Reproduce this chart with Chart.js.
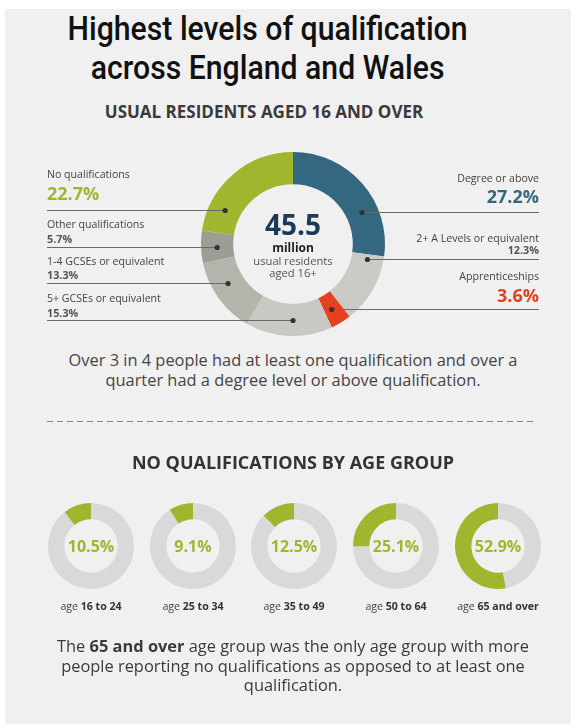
<!DOCTYPE html>
<html><head><meta charset="utf-8">
<script src="https://cdn.jsdelivr.net/npm/chart.js@4.4.1/dist/chart.umd.min.js"></script>
<style>
html,body{margin:0;padding:0;background:#fff;width:571px;height:724px;overflow:hidden;position:relative;font-family:"Open Sans",sans-serif;}
#bg{position:absolute;left:5px;top:9px;width:566px;height:715px;background:#f0f0f0;}
.t{position:absolute;white-space:nowrap;text-align:center;width:600px;}
canvas{position:absolute;}
#title{font-family:Roboto,"Open Sans",sans-serif;font-weight:500;font-size:33px;line-height:39px;color:#111;left:0;top:9px;width:auto;transform-origin:0 0;}
#sub{font-weight:bold;font-size:17px;line-height:17px;color:#3a3a3a;left:-36px;top:103px;}
#summary{font-size:16.4px;line-height:19.7px;color:#454545;left:-7px;top:350px;}
#sub2{font-weight:bold;font-size:18px;line-height:18px;color:#333;left:-7px;top:453px;}
#bottom{font-size:16.4px;line-height:19.7px;color:#3a3a3a;left:-7px;top:636px;}
.age{position:absolute;white-space:nowrap;text-align:center;width:120px;font-size:10.6px;line-height:11px;color:#444;top:601px;}
.age b{color:#333;}
svg{position:absolute;left:0;top:0;}
.tl{display:block;}
</style></head>
<body>
<div id="bg"></div>
<div class="t" id="title"><span class="tl" id="tl1">Highest levels of qualification</span><span class="tl" id="tl2">across England and Wales</span></div>
<div class="t" id="sub">USUAL RESIDENTS AGED 16 AND OVER</div>
<canvas id="main" width="571" height="200" style="left:0;top:140px;width:571px;height:200px"></canvas>
<div class="t" id="summary">Over 3 in 4 people had at least one qualification and over a<br>quarter had a degree level or above qualification.</div>
<svg width="571" height="724"><line x1="47" y1="421.5" x2="536" y2="421.5" stroke="#8a8a8a" stroke-width="1" stroke-dasharray="6,4"/></svg>
<div class="t" id="sub2">NO QUALIFICATIONS BY AGE GROUP</div>
<div id="small"></div>
<div class="t" id="bottom">The <b>65 and over</b> age group was the only age group with more<br>people reporting no qualifications as opposed to at least one<br>qualification.</div>
<script>
// ---------- DATA ----------
const categories = ['Degree or above','2+ A Levels or equivalent','Apprenticeships','5+ GCSEs or equivalent','1-4 GCSEs or equivalent','Other qualifications','No qualifications'];
const shares = [27.2, 12.3, 3.6, 15.3, 13.3, 5.7, 22.7];
const totalResidents = '45.5';
const ageGroups = ['16 to 24','25 to 34','35 to 49','50 to 64','65 and over'];
const noQualShares = [10.5, 9.1, 12.5, 25.1, 52.9];

// ---------- STYLE / LAYOUT ----------
const segColors = ['#346880','#cacbc5','#e5401f','#c8c9c3','#b3b4ab','#9c9e95','#a1b52e'];
const mainTop = 140;
const labelLayout = [
  {side:'right', nameY:182.3, valY:203.3, lineY:212.3, big:true,  color:'#346880'},
  {side:'right', nameY:241.7, valY:254.0, lineY:258.7, big:false},
  {side:'right', nameY:280.0, valY:301.7, lineY:309.3, big:true,  color:'#e5401f'},
  {side:'left',  nameY:302.3, valY:316.7, lineY:320.0, big:false},
  {side:'left',  nameY:265.0, valY:279.3, lineY:283.3, big:false},
  {side:'left',  nameY:228.3, valY:242.7, lineY:246.7, big:false},
  {side:'left',  nameY:178.3, valY:200.0, lineY:210.0, big:true,  color:'#a1b52e'}
];
const leftX = 47, rightX = 539;
const smallCenters = [91, 193, 294, 396, 498];
const smallCy = 546;

// title: condensed look
(function(){
  const t = document.getElementById('title');
  const w1 = document.getElementById('tl1').getBoundingClientRect().width;
  const s = 400 / w1;
  t.style.width = (600) + 'px';
  t.style.left = (268 - 300 * s) + 'px';
  t.style.transform = 'scaleX(' + s + ')';
})();

const fmt = v => v.toFixed(1) + '%';

const mainLabels = {
  id:'mainLabels',
  afterDraw(chart){
    const ctx = chart.ctx;
    const meta = chart.getDatasetMeta(0);
    ctx.save();
    meta.data.forEach((arc, i) => {
      const L = labelLayout[i];
      const p = arc.getProps(['x','y','innerRadius','outerRadius','startAngle','endAngle'], true);
      const mr = (p.innerRadius + p.outerRadius) / 2;
      const ly = L.lineY - mainTop;
      const dy = ly - p.y;
      const dx = Math.sqrt(Math.max(mr*mr - dy*dy, 0));
      const norm = a => { while (a < p.startAngle) a += 2*Math.PI; while (a > p.startAngle + 2*Math.PI) a -= 2*Math.PI; return a; };
      let cands = [p.x + dx, p.x - dx].filter(x => { const a = norm(Math.atan2(dy, x - p.x)); return a >= p.startAngle && a <= p.endAngle; });
      if (!cands.length) cands = [p.x + (L.side==='left' ? -dx : dx)];
      cands.sort((a,b) => L.side==='left' ? b-a : a-b);
      const dotX = cands[0];
      ctx.strokeStyle = '#6a6a6a'; ctx.lineWidth = 1;
      ctx.beginPath();
      const yy = Math.round(ly) + 0.5;
      if (L.side==='left') { ctx.moveTo(leftX, yy); ctx.lineTo(dotX, yy); }
      else { ctx.moveTo(dotX, yy); ctx.lineTo(rightX, yy); }
      ctx.stroke();
      ctx.fillStyle = '#333';
      ctx.beginPath(); ctx.arc(dotX, yy, 2.6, 0, 2*Math.PI); ctx.fill();
      const tx = L.side==='left' ? leftX : rightX;
      ctx.textAlign = L.side==='left' ? 'left' : 'right';
      ctx.textBaseline = 'alphabetic';
      ctx.fillStyle = '#444';
      ctx.font = '10.6px "Open Sans"';
      ctx.fillText(categories[i], tx, L.nameY - mainTop);
      if (L.big) { ctx.font = 'bold 18px "Open Sans"'; ctx.fillStyle = L.color; }
      else { ctx.font = 'bold 10.8px "Open Sans"'; ctx.fillStyle = '#555'; }
      ctx.fillText(fmt(shares[i]), tx, L.valY - mainTop);
    });
    // centre text
    const c = meta.data[0];
    ctx.textAlign = 'center';
    ctx.fillStyle = '#1b3a57';
    ctx.font = 'bold 28px "Open Sans"';
    ctx.fillText(totalResidents, c.x, c.y - 9);
    ctx.fillStyle = '#1e1e1e';
    ctx.font = 'bold 12px "Open Sans"';
    ctx.fillText('million', c.x, c.y + 8.3);
    ctx.fillStyle = '#555';
    ctx.font = '11.2px "Open Sans"';
    ctx.fillText('usual residents', c.x, c.y + 21);
    ctx.fillText('aged 16+', c.x, c.y + 33);
    ctx.restore();
  }
};

new Chart(document.getElementById('main'), {
  type:'doughnut',
  data:{labels:categories, datasets:[{data:shares, backgroundColor:segColors, borderWidth:0, hoverOffset:0}]},
  options:{responsive:false, animation:false, cutout:'65%',
    layout:{padding:{left:201, right:186, top:12, bottom:4}},
    plugins:{legend:{display:false}, tooltip:{enabled:false}}},
  plugins:[mainLabels]
});

const smallText = {
  id:'smallText',
  afterDraw(chart, args, opts){
    const ctx = chart.ctx, a = chart.getDatasetMeta(0).data[0];
    ctx.save();
    ctx.font = 'bold 16px "Open Sans"';
    ctx.fillStyle = '#a1b52e';
    ctx.textAlign = 'center';
    ctx.textBaseline = 'alphabetic';
    ctx.fillText(opts.label || '', a.x, a.y + 6.3);
    ctx.restore();
  }
};

const host = document.getElementById('small');
noQualShares.forEach((v, i) => {
  const cv = document.createElement('canvas');
  cv.width = 100; cv.height = 100;
  cv.style.left = (smallCenters[i] - 50) + 'px';
  cv.style.top = (smallCy - 50) + 'px';
  cv.style.width = '100px'; cv.style.height = '100px';
  host.appendChild(cv);
  new Chart(cv, {
    type:'doughnut',
    data:{labels:['At least one qualification','No qualifications'], datasets:[{data:[100 - v, v], backgroundColor:['#d9d9d9','#a1b52e'], borderWidth:0, hoverOffset:0}]},
    options:{responsive:false, animation:false, cutout:'62%',
      layout:{padding:7},
      plugins:{legend:{display:false}, tooltip:{enabled:false}, smallText:{label:fmt(v)}}},
    plugins:[smallText]
  });
  const lab = document.createElement('div');
  lab.className = 'age';
  lab.style.left = (smallCenters[i] - 60) + 'px';
  lab.innerHTML = 'age <b>' + ageGroups[i] + '</b>';
  host.appendChild(lab);
});
</script>
</body></html>
